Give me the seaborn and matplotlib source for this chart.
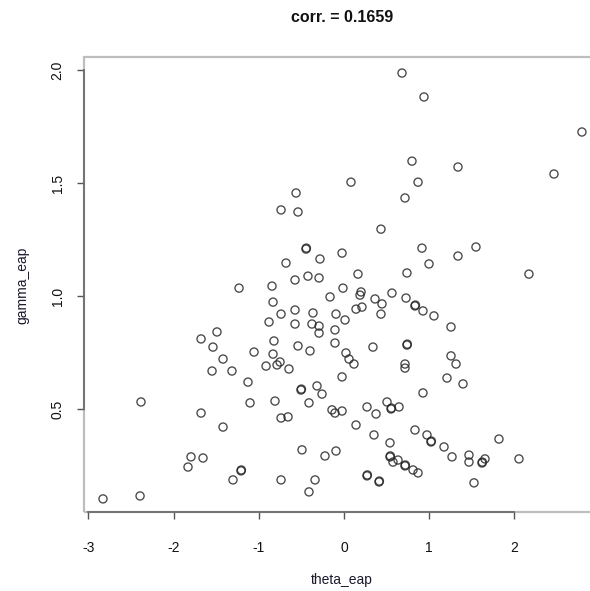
import matplotlib
matplotlib.use("Agg")
import matplotlib.pyplot as plt
from matplotlib.patches import Rectangle
import seaborn as sns
import pandas as pd

theta_eap = [
    0.681, 0.939, 2.793, 0.798, 1.338, 2.465, 0.082, 0.869, -0.563, 0.716,
    -0.739, -0.540, 0.434, -0.446, -0.442, 0.915, 1.549, -0.023, -0.282, 1.338,
    -0.681, 0.998, 2.171, 0.164, 0.739, -0.423, -0.293, -0.575, -1.232, -0.845,
    -0.012, 0.200, 0.188, -0.164, 0.364, 0.563, 0.728, -0.833, 0.446, 0.833,
    0.838, 0.927, 0.211, 0.141, -0.575, -0.739, -0.364, -0.094, 0.434, 1.056,
    0.012, -0.880, -0.575, -0.376, -0.293, 1.256, -1.491, -0.293, -0.106, -1.678,
    -0.822, -0.106, -1.538, -0.540, 0.340, 0.739, 0.743, -0.399, -1.056, -0.833,
    0.023, 0.059, 1.256, -1.420, 0.117, 0.716, 0.716, 1.315, -0.915, -0.786,
    -0.751, -0.646, -1.549, -1.315, -0.023, 1.209, 1.397, -1.127, -0.505, -0.500,
    -0.317, -0.258, -2.383, -1.103, -0.810, -0.411, 0.927, 0.505, 0.552, 0.557,
    0.646, 0.270, 0.376, -0.141, -0.106, -0.023, -1.678, -0.739, -0.657, -1.420,
    0.141, 0.833, 0.352, 0.974, 1.819, 1.021, 1.025, 0.540, 1.174, -0.493,
    -0.223, -0.094, 1.268, 0.540, 0.544, 0.575, 0.634, 1.467, 1.467, 1.655,
    1.620, 1.624, 2.054, 0.716, 0.720, 0.810, 0.869, -1.796, -1.831, -1.655,
    -1.209, -1.205, -1.303, -0.739, -0.340, 0.270, 0.274, 0.411, 0.415, 1.526,
    -0.411, -2.829, -2.394,
]
gamma_eap = [
    1.987, 1.881, 1.726, 1.597, 1.571, 1.540, 1.504, 1.504, 1.456, 1.434,
    1.381, 1.372, 1.296, 1.208, 1.212, 1.212, 1.217, 1.190, 1.164, 1.177,
    1.146, 1.142, 1.097, 1.097, 1.102, 1.088, 1.080, 1.071, 1.035, 1.044,
    1.035, 1.018, 1.004, 0.996, 0.987, 1.013, 0.991, 0.973, 0.965, 0.956,
    0.960, 0.934, 0.951, 0.942, 0.938, 0.920, 0.925, 0.920, 0.920, 0.912,
    0.894, 0.885, 0.876, 0.876, 0.867, 0.863, 0.841, 0.836, 0.850, 0.810,
    0.801, 0.792, 0.774, 0.779, 0.774, 0.783, 0.787, 0.757, 0.752, 0.743,
    0.748, 0.721, 0.735, 0.721, 0.699, 0.699, 0.681, 0.699, 0.690, 0.695,
    0.708, 0.677, 0.668, 0.668, 0.642, 0.637, 0.611, 0.619, 0.584, 0.588,
    0.602, 0.566, 0.531, 0.527, 0.535, 0.527, 0.571, 0.531, 0.500, 0.504,
    0.509, 0.509, 0.478, 0.496, 0.482, 0.491, 0.482, 0.460, 0.465, 0.420,
    0.429, 0.407, 0.385, 0.385, 0.367, 0.354, 0.358, 0.350, 0.332, 0.319,
    0.292, 0.314, 0.288, 0.288, 0.292, 0.265, 0.274, 0.296, 0.265, 0.279,
    0.261, 0.265, 0.279, 0.248, 0.252, 0.230, 0.217, 0.288, 0.243, 0.283,
    0.226, 0.230, 0.186, 0.186, 0.186, 0.204, 0.208, 0.177, 0.181, 0.173,
    0.133, 0.102, 0.115,
]

x_ticks = [-3, -2, -1, 0, 1, 2]
y_ticks = [0.5, 1.0, 1.5, 2.0]
y_ticklabels = ["0.5", "1.0", "1.5", "2.0"]
title_text = "corr. = 0.1659"
x_label = "theta_eap"
y_label = "gamma_eap"

df = pd.DataFrame({"theta_eap": theta_eap, "gamma_eap": gamma_eap})

sns.set_style("white")
plt.rcParams["font.family"] = ["Liberation Sans", "DejaVu Sans"]

W, H = 590, 591
fig = plt.figure(figsize=(W / 100, H / 100), dpi=100)
ax = fig.add_axes([84 / W, (H - 512) / H, (600 - 84) / W, (512 - 57) / H])

sns.scatterplot(data=df, x="theta_eap", y="gamma_eap", ax=ax,
                marker="o", s=34, facecolors="none", edgecolor="#222222",
                linewidth=1.0, alpha=0.8, legend=False)

ax.set_xlim(-3.052, 3.005)
ax.set_ylim(0.044, 2.058)

# R-style axes: light box plus darker axis lines over tick range
for side in ["top", "right"]:
    ax.spines[side].set_visible(False)
ax.add_patch(Rectangle((0, 0), 1, 1, transform=ax.transAxes, fill=False,
                       edgecolor="#bdbdbd", linewidth=1.6, clip_on=False, zorder=0))
ax.spines["left"].set_bounds(0.5, 2.0)
ax.spines["bottom"].set_bounds(-3, 2)
for side in ["left", "bottom"]:
    ax.spines[side].set_color("#6e6e6e")
    ax.spines[side].set_linewidth(1.3)

ax.set_xticks(x_ticks)
ax.set_xticklabels([str(t) for t in x_ticks])
ax.set_yticks(y_ticks)
ax.set_yticklabels(y_ticklabels, rotation=90, va="center")
ax.tick_params(axis="both", direction="out", length=5, width=1.0,
               color="#555555", labelsize=10, labelcolor="#111111")
ax.tick_params(axis="x", pad=16, bottom=True)
ax.tick_params(axis="y", pad=9, left=True)
ax.set_xlabel("")
ax.set_ylabel("")

fig.text(342 / W, 1 - 580 / H, x_label, ha="center", va="center",
         fontsize=10, color="#1a1a2e")
fig.text(22 / W, 1 - 285 / H, y_label, ha="center", va="center",
         rotation=90, fontsize=10, color="#1a1a2e")
fig.text(342 / W, 1 - 18 / H, title_text, ha="center", va="center",
         fontsize=11.5, fontweight="bold", color="#111111")

fig.savefig("out.png", dpi=100)
